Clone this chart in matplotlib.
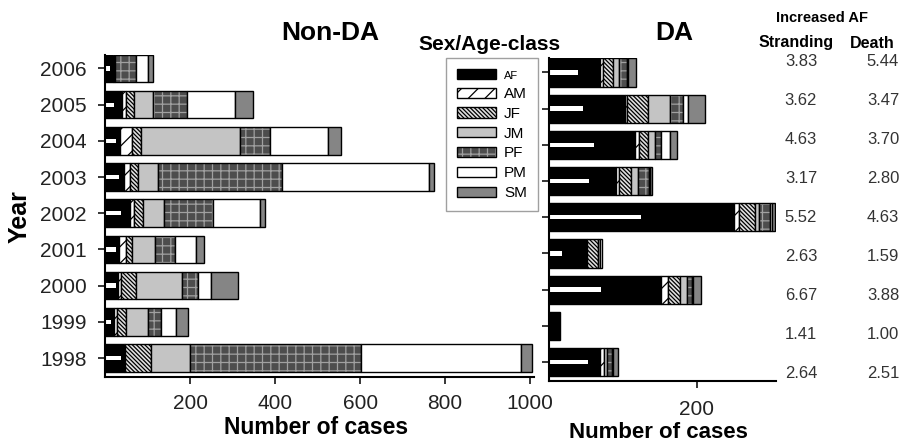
import matplotlib
matplotlib.use("Agg")
import matplotlib.pyplot as plt
import numpy as np
from matplotlib.patches import Patch
from matplotlib.legend_handler import HandlerTuple

plt.rcParams['font.family'] = ['Liberation Sans', 'DejaVu Sans']
plt.rcParams['hatch.linewidth'] = 0.9

# data (rows listed 1998 -> 2006)
years = [1998, 1999, 2000, 2001, 2002, 2003, 2004, 2005, 2006]
classes = ['AF', 'AM', 'JF', 'JM', 'PF', 'PM', 'SM']

# Non-DA cases per class: AF, AM, JF, JM, PF, PM, SM
nonda = np.array([
    [45, 3, 61, 90, 404, 375, 26],    # 1998
    [21, 8, 20, 53, 29, 35, 30],      # 1999
    [31, 6, 35, 110, 37, 31, 62],     # 2000
    [32, 17, 14, 55, 47, 50, 18],     # 2001
    [59, 9, 21, 50, 114, 112, 11],    # 2002
    [45, 14, 19, 47, 292, 345, 12],   # 2003
    [35, 29, 21, 232, 72, 135, 30],   # 2004
    [41, 8, 19, 46, 78, 114, 43],     # 2005
    [18, 2, 4, 0, 48, 30, 12],        # 2006
])
nonda_inner = [37, 15, 25, 27, 37, 33, 25, 21, 11]

# DA cases per class
da = np.array([
    [69, 6, 0, 3, 7, 2, 6],           # 1998
    [15, 0, 0, 0, 0, 0, 0],           # 1999
    [152, 9, 16, 9, 7, 2, 10],        # 2000
    [51, 0, 15, 3, 0, 3, 0],          # 2001
    [250, 7, 21, 6, 15, 3, 4],        # 2002
    [90, 5, 16, 9, 15, 1, 3],         # 2003
    [116, 6, 12, 9, 8, 13, 9],        # 2004
    [103, 3, 28, 29, 18, 7, 23],      # 2005
    [69, 4, 14, 7, 11, 2, 11],        # 2006
])
da_inner = [53, 0, 70, 17, 125, 54, 61, 46, 39]

# increased AF (listed 2006 -> 1998, as in the table at right)
stranding = ['3.83', '3.62', '4.63', '3.17', '5.52', '2.63', '6.67', '1.41', '2.64']
death = ['5.44', '3.47', '3.70', '2.80', '4.63', '1.59', '3.88', '1.00', '2.51']

# fill colour, hatch, hatch colour for each class
styles = {
    'AF': ('black', None, 'black'),
    'AM': ('white', '//', 'black'),
    'JF': ('#e0e0e0', '\\' * 8, 'black'),
    'JM': ('#c4c4c4', None, '#c4c4c4'),
    'PF': ('#4d4d4d', '++', '#a0a0a0'),
    'PM': ('white', None, 'white'),
    'SM': ('#858585', None, '#858585'),
}

W, H = 904, 442
fig = plt.figure(figsize=(W / 100, H / 100), dpi=100)
ax1 = fig.add_axes([105 / W, 1 - 377 / H, 429 / W, (377 - 55) / H])
ax2 = fig.add_axes([549 / W, 1 - 381 / H, 227 / W, (381 - 58) / H])

ypos = np.arange(len(years))


def stack(ax, table, inner, h):
    left = np.zeros(len(years))
    for k, c in enumerate(classes):
        fc, hatch, hc = styles[c]
        vals = table[:, k].astype(float)
        lw = np.where(vals > 0, 1.0, 0.0)
        ax.barh(ypos, vals, left=left, height=h, color=fc, hatch=hatch,
                edgecolor=hc, linewidth=0)
        ax.barh(ypos, vals, left=left, height=h, fill=False,
                edgecolor='black', linewidth=lw)
        left += vals
    ax.barh(ypos, inner, height=0.12, color='white', linewidth=0)


stack(ax1, nonda, nonda_inner, 0.76)
stack(ax2, da, da_inner, 0.78)

ax1.set_xlim(0, 1009)
ax1.set_ylim(-0.525, 8.373)
ax2.set_xlim(0, 307)
ax2.set_ylim(-0.525, 8.40)

for ax in (ax1, ax2):
    for s in ('top', 'right'):
        ax.spines[s].set_visible(False)
    for s in ('left', 'bottom'):
        ax.spines[s].set_linewidth(1.5)
    ax.tick_params(axis='both', direction='out', length=5, width=1.1,
                   labelsize=15, colors='black')

ax1.tick_params(axis='x', pad=7)
ax2.tick_params(axis='x', pad=9)
ax1.set_yticks(ypos, labels=[str(y) for y in years])
ax1.tick_params(axis='y', pad=8)
ax1.set_xticks([200, 400, 600, 800, 1000])
ax2.set_yticks(ypos, labels=[])
ax2.set_xticks([200])
for lab in ax1.get_yticklabels() + ax1.get_xticklabels() + ax2.get_xticklabels():
    lab.set_color('#222222')

fig.text(330 / W, 1 - 33 / H, 'Non-DA', ha='center', va='center',
         fontsize=19, fontweight='bold')
fig.text(674 / W, 1 - 33 / H, 'DA', ha='center', va='center',
         fontsize=19, fontweight='bold')
fig.text(489 / W, 1 - 45 / H, 'Sex/Age-class', ha='center', va='center',
         fontsize=15, fontweight='bold')
fig.text(316 / W, 1 - 428 / H, 'Number of cases', ha='center', va='center',
         fontsize=16.5, fontweight='bold')
fig.text(658 / W, 1 - 432 / H, 'Number of cases', ha='center', va='center',
         fontsize=16, fontweight='bold')
fig.text(20 / W, 1 - 217 / H, 'Year', ha='center', va='center',
         rotation=90, fontsize=18, fontweight='bold')

# increased AF table
fig.text(822 / W, 1 - 18 / H, 'Increased AF', ha='center', va='center',
         fontsize=10.5, fontweight='bold')
fig.text(796 / W, 1 - 43 / H, 'Stranding', ha='center', va='center',
         fontsize=11.5, fontweight='bold')
fig.text(872 / W, 1 - 43 / H, 'Death', ha='center', va='center',
         fontsize=11.5, fontweight='bold')
for i, (s, d) in enumerate(zip(stranding, death)):
    yy = 1 - (62 + i * 38.9) / H
    fig.text(801 / W, yy, s, ha='center', va='center', fontsize=12, color='#333333')
    fig.text(883 / W, yy, d, ha='center', va='center', fontsize=12, color='#333333')

# legend
handles = []
for c in classes:
    fc, hatch, hc = styles[c]
    handles.append((Patch(facecolor=fc, hatch=hatch, edgecolor=hc, linewidth=0),
                    Patch(fill=False, edgecolor='black', linewidth=1)))
leg = fig.legend(handles, classes, handler_map={tuple: HandlerTuple(ndivide=1)},
                 loc='upper left', bbox_to_anchor=(446 / W, 1 - 58 / H),
                 fontsize=11, frameon=True, fancybox=False,
                 handlelength=2.6, handleheight=0.65, labelspacing=0.38,
                 handletextpad=0.5, borderpad=0.7, borderaxespad=0)
leg.get_frame().set_edgecolor('#888888')
leg.get_frame().set_linewidth(1)
leg.get_texts()[0].set_fontsize(8)

fig.savefig('out.png', dpi=100)
